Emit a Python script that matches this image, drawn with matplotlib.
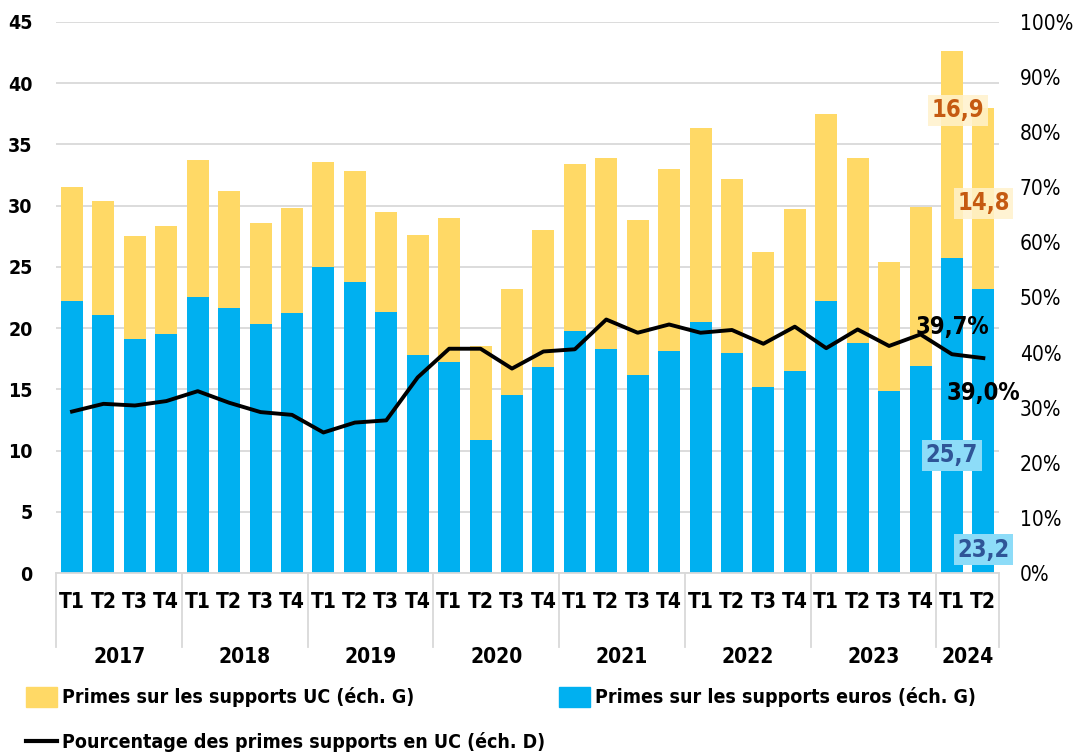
import matplotlib.pyplot as plt
from matplotlib.patches import Patch
from matplotlib.lines import Line2D
from matplotlib import transforms

plt.rcParams['font.family'] = ['DejaVu Sans']
plt.rcParams['font.stretch'] = 'condensed'

quarters = ["T1", "T2", "T3", "T4"] * 7 + ["T1", "T2"]
years = ["2017", "2018", "2019", "2020", "2021", "2022", "2023", "2024"]
quarters_per_year = [4, 4, 4, 4, 4, 4, 4, 2]

# primes sur supports euros (Md€, échelle gauche)
euros = [22.2, 21.1, 19.1, 19.5, 22.5, 21.6, 20.3, 21.2, 25.0, 23.8, 21.3, 17.8,
         17.2, 10.9, 14.5, 16.8, 19.8, 18.3, 16.2, 18.1, 20.5, 18.0, 15.2, 16.5,
         22.2, 18.8, 14.9, 16.9, 25.7, 23.2]
# primes sur supports UC (Md€, échelle gauche)
uc = [9.3, 9.3, 8.4, 8.8, 11.2, 9.6, 8.3, 8.6, 8.6, 9.0, 8.2, 9.8,
      11.8, 7.6, 8.7, 11.2, 13.6, 15.6, 12.6, 14.9, 15.8, 14.2, 11.0, 13.2,
      15.3, 15.1, 10.5, 13.0, 16.9, 14.8]
# part des UC (%, échelle droite)
pct = [29.3, 30.7, 30.4, 31.2, 33.0, 30.9, 29.2, 28.7, 25.5, 27.3, 27.7, 35.5,
       40.7, 40.7, 37.1, 40.2, 40.6, 46.0, 43.6, 45.1, 43.6, 44.1, 41.6, 44.7,
       40.8, 44.2, 41.2, 43.3, 39.7, 39.0]

blue = '#00B0F0'
gold = '#FFD966'
grid = '#D9D9D9'

fig = plt.figure(figsize=(10.83, 7.55), dpi=100)
ax = fig.add_axes([0.052, 0.241, 0.8705, 0.730])
x = list(range(len(euros)))

ax.bar(x, euros, width=0.7, color=blue, zorder=2)
ax.bar(x, uc, width=0.7, bottom=euros, color=gold, zorder=2)

ax.set_ylim(0, 45)
ax.set_yticks(range(0, 46, 5))
ax.set_xlim(-0.5, len(euros) - 0.5)
ax.yaxis.grid(True, color=grid, lw=1.3, zorder=0)
ax.set_axisbelow(True)
for s in ['top', 'right', 'left']:
    ax.spines[s].set_visible(False)
ax.spines['bottom'].set_color(grid)
ax.spines['bottom'].set_linewidth(1.3)
ax.tick_params(axis='y', length=0, pad=17, labelsize=14)
for lab in ax.get_yticklabels():
    lab.set_fontweight('bold')
ax.set_xticks(x)
ax.set_xticklabels(quarters, fontsize=15, fontweight='bold')
ax.tick_params(axis='x', length=0, pad=14)

# années + séparateurs
trans = transforms.blended_transform_factory(ax.transData, ax.transAxes)
pos = -0.5
for yr, n in zip(years, quarters_per_year):
    ax.plot([pos, pos], [0, -0.135], color=grid, lw=1.3, transform=trans, clip_on=False)
    ax.text(pos + n / 2, -0.153, yr, transform=trans, ha='center', va='center',
            fontsize=15, fontweight='bold')
    pos += n
ax.plot([pos, pos], [0, -0.135], color=grid, lw=1.3, transform=trans, clip_on=False)

ax2 = ax.twinx()
ax2.plot(x, pct, color='black', lw=2.8, zorder=5)
ax2.set_ylim(0, 100)
ax2.set_yticks(range(0, 101, 10))
ax2.set_yticklabels([f"{v}%" for v in range(0, 101, 10)])
ax2.tick_params(axis='y', length=0, pad=15, labelsize=15)
for s in ['top', 'right', 'left', 'bottom']:
    ax2.spines[s].set_visible(False)

# étiquettes de valeurs
n = len(euros)
ax.text(n - 2 + 0.2, 37.8, "16,9", ha='center', va='center', fontsize=17, fontweight='bold',
        color='#C55A11', zorder=6, bbox=dict(boxstyle='square,pad=0.15', fc='#FFF2CC', ec='none', alpha=0.85))
ax.text(n - 1, 30.2, "14,8", ha='center', va='center', fontsize=17, fontweight='bold',
        color='#C55A11', zorder=6, bbox=dict(boxstyle='square,pad=0.15', fc='#FFF2CC', ec='none', alpha=0.85))
ax.text(n - 2, 9.6, "25,7", ha='center', va='center', fontsize=17, fontweight='bold',
        color='#2F5597', zorder=6, bbox=dict(boxstyle='square,pad=0.15', fc='#8DDCF8', ec='none'))
ax.text(n - 1, 1.9, "23,2", ha='center', va='center', fontsize=17, fontweight='bold',
        color='#2F5597', zorder=6, bbox=dict(boxstyle='square,pad=0.15', fc='#8DDCF8', ec='none'))
ax2.text(n - 2, pct[-2] + 5.0, "39,7%", ha='center', va='center', fontsize=17,
         fontweight='bold', zorder=6)
ax2.text(n - 1, pct[-1] - 6.3, "39,0%", ha='center', va='center', fontsize=17,
         fontweight='bold', zorder=6)

# légende
leg_font = {'size': 14, 'weight': 'bold', 'stretch': 'condensed'}
fig.legend([Patch(color=gold)], ["Primes sur les supports UC (éch. G)"],
           loc='center left', bbox_to_anchor=(0.008, 0.077), frameon=False,
           prop=leg_font, handlelength=1.6, handleheight=1.2, handletextpad=0.25)
fig.legend([Patch(color=blue)], ["Primes sur les supports euros (éch. G)"],
           loc='center left', bbox_to_anchor=(0.5, 0.077), frameon=False,
           prop=leg_font, handlelength=1.6, handleheight=1.2, handletextpad=0.25)
fig.legend([Line2D([0], [0], color='black', lw=3)],
           ["Pourcentage des primes supports en UC (éch. D)"],
           loc='center left', bbox_to_anchor=(0.008, 0.017), frameon=False,
           prop=leg_font, handlelength=1.6, handletextpad=0.25)

fig.savefig('out.png', dpi=100)
